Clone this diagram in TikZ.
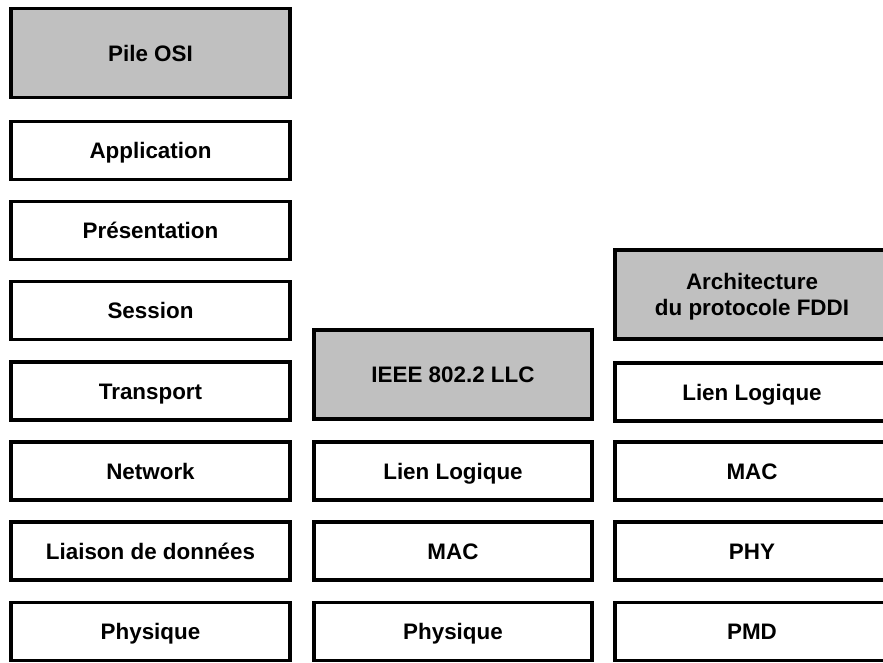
\documentclass[tikz,border=0pt]{standalone}
\usepackage{fontspec}
\setmainfont{Liberation Sans}
\begin{document}
\begin{tikzpicture}[x=1pt,y=-1pt,
  layer/.style={draw=black, line width=3.8pt, fill=white, rectangle, inner sep=0pt,
    minimum width=279pt, minimum height=58pt, font=\fontsize{22.4}{26.7}\selectfont\bfseries,
    align=center, text height=16pt, text depth=0pt},
  headbox/.style={layer, fill=headgray, minimum height=89pt}]
\definecolor{headgray}{HTML}{C0C0C0}
\useasboundingbox (0,0) rectangle (883,662);
\clip (0,0) rectangle (883,662);
% column 1: OSI
\node[headbox] (osi) at (150.5,53) {Pile OSI};
\node[layer] (app) at (150.5,150.5) {Application};
\node[layer] (pres) at (150.5,230.5) {Présentation};
\node[layer] (sess) at (150.5,310.5) {Session};
\node[layer] (trans) at (150.5,391) {Transport};
\node[layer] (net) at (150.5,471) {Network};
\node[layer] (liai) at (150.5,551) {Liaison de données};
\node[layer] (phys) at (150.5,631.5) {Physique};
% column 2: IEEE
\node[headbox, minimum width=278pt] (ieee) at (453,374.5) {IEEE 802.2 LLC};
\node[layer, minimum width=278pt] (llc) at (453,471) {Lien Logique};
\node[layer, minimum width=278pt] (mac) at (453,551) {MAC};
\node[layer, minimum width=278pt] (phys2) at (453,631.5) {Physique};
% column 3: FDDI
\node[headbox, minimum width=274pt, text height=42.7pt, text depth=0pt] (fddi) at (752,294.5) {Architecture\\du protocole FDDI};
\node[layer, minimum width=274pt] (llc3) at (752,392) {Lien Logique};
\node[layer, minimum width=274pt] (mac3) at (752,471) {MAC};
\node[layer, minimum width=274pt] (phy3) at (752,551) {PHY};
\node[layer, minimum width=274pt] (pmd3) at (752,631.5) {PMD};
\end{tikzpicture}
\end{document}
